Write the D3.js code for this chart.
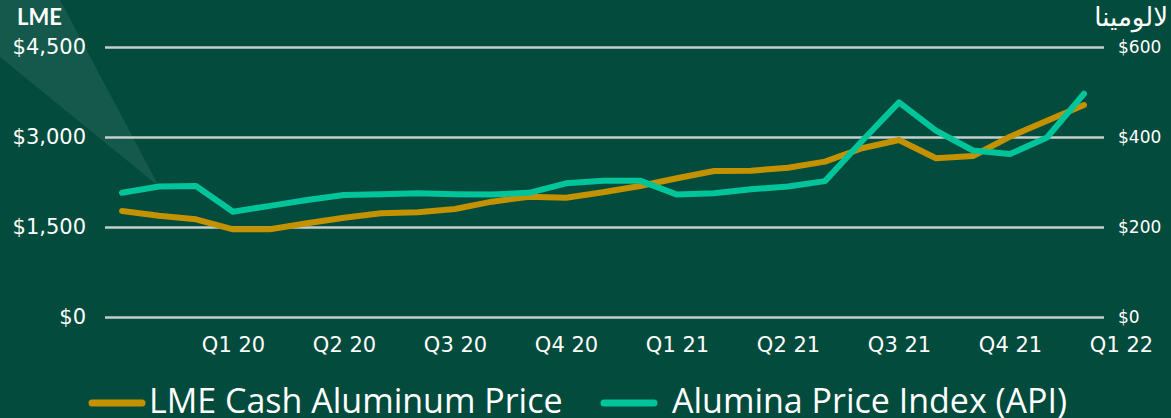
<!DOCTYPE html>
<html>
<head>
<meta charset="utf-8">
<script src="https://cdn.jsdelivr.net/npm/d3@7"></script>
<style>
  html, body { margin: 0; padding: 0; background: #024b3d; }
  svg { display: block; }
</style>
</head>
<body>
<div id="plot"></div>
<script>
// monthly points, Oct 2019 .. Dec 2021
var months = ["Oct 19", "Nov 19", "Dec 19", "Jan 20", "Feb 20", "Mar 20", "Apr 20", "May 20", "Jun 20",
              "Jul 20", "Aug 20", "Sep 20", "Oct 20", "Nov 20", "Dec 20", "Jan 21", "Feb 21", "Mar 21",
              "Apr 21", "May 21", "Jun 21", "Jul 21", "Aug 21", "Sep 21", "Oct 21", "Nov 21", "Dec 21"];

// LME cash aluminum, $/t (left axis)
var lmeCash = [1767, 1688, 1628, 1462, 1462, 1562, 1655, 1728, 1745,
               1800, 1922, 2005, 1988, 2078, 2183, 2312, 2433, 2438,
               2488, 2590, 2812, 2950, 2645, 2683, 3005, 3272, 3533];

// alumina price index, $/t (right axis)
var aluminaApi = [276, 290, 291, 234, 247, 260, 271, 273, 275,
                  273, 272, 276, 297, 303, 303, 272, 275, 284,
                  290, 302, 391, 477, 414, 370, 362, 399, 496];

var quarterLabels = ["Q1 20", "Q2 20", "Q3 20", "Q4 20", "Q1 21", "Q2 21", "Q3 21", "Q4 21", "Q1 22"];
var leftTicks = [0, 1500, 3000, 4500];
var rightTicks = [0, 200, 400, 600];
var seriesNames = ["LME Cash Aluminum Price", "Alumina Price Index (API)"];
var seriesColors = ["#c49200", "#00c49a"];

var width = 1171, height = 418;
var gridLeft = 105, gridRight = 1104;

var x = d3.scaleLinear()
          .domain([0, months.length])
          .range([122, 1121]);

var yLeft = d3.scaleLinear().domain([0, 4500]).range([317, 47]);
var yRight = d3.scaleLinear().domain([0, 600]).range([317, 47]);

var chart = d3.select('#plot')
    .append('svg')
    .attr('width', width)
    .attr('height', height);

chart.append('rect')
    .attr('width', width)
    .attr('height', height)
    .attr('fill', '#024b3d');

// spotlight wedge pointing at the second API point
var tipX = x(1), tipY = yRight(aluminaApi[1]);
chart.append('path')
    .attr('d', 'M0,0 L60,0 L' + tipX + ',' + tipY + ' L0,57 Z')
    .attr('fill', '#ffffff')
    .attr('fill-opacity', 0.08);

// left axis + gridlines
var leftAxis = d3.axisLeft(yLeft)
    .tickValues(leftTicks)
    .tickSize(-(gridRight - gridLeft))
    .tickPadding(19)
    .tickFormat(function(d) { return '$' + d3.format(',')(d); });

var gl = chart.append('g')
    .attr('transform', 'translate(' + gridLeft + ',0)')
    .call(leftAxis);
gl.select('.domain').remove();
gl.selectAll('line').attr('stroke', '#c6cecb').attr('stroke-width', 2.5);
gl.selectAll('text')
    .attr('fill', '#ffffff')
    .style('font-family', 'DejaVu Sans')
    .style('font-size', '21px');

// right axis
var rightAxis = d3.axisRight(yRight)
    .tickValues(rightTicks)
    .tickSize(0)
    .tickPadding(14)
    .tickFormat(function(d) { return '$' + d; });

var gr = chart.append('g')
    .attr('transform', 'translate(' + gridRight + ',0)')
    .call(rightAxis);
gr.select('.domain').remove();
gr.selectAll('text')
    .attr('fill', '#ffffff')
    .style('font-family', 'DejaVu Sans')
    .style('font-size', '17px');

// bottom axis, a label every third month
var bottomAxis = d3.axisBottom(x)
    .tickValues(quarterLabels.map(function(d, i) { return 3 * (i + 1); }))
    .tickSize(0)
    .tickPadding(20)
    .tickFormat(function(d, i) { return quarterLabels[i]; });

var gb = chart.append('g')
    .attr('transform', 'translate(0,' + yLeft(0) + ')')
    .call(bottomAxis);
gb.select('.domain').remove();
gb.selectAll('text')
    .attr('fill', '#ffffff')
    .style('font-family', 'DejaVu Sans')
    .style('font-size', '21px');

// axis titles
chart.append('text')
    .attr('x', 17)
    .attr('y', 25)
    .attr('fill', '#ffffff')
    .style('font-family', 'Lato')
    .style('font-weight', 'bold')
    .style('font-size', '22px')
    .text('LME');

chart.append('text')
    .attr('x', 1168)
    .attr('y', 26)
    .attr('text-anchor', 'end')
    .attr('fill', '#ffffff')
    .style('font-family', 'DejaVu Sans')
    .style('font-size', '26px')
    .text('لالومينا');

var lineLeft = d3.line()
    .x(function(d, i) { return x(i); })
    .y(function(d) { return yLeft(d); });

var lineRight = d3.line()
    .x(function(d, i) { return x(i); })
    .y(function(d) { return yRight(d); });

chart.append('path')
    .datum(lmeCash)
    .attr('d', lineLeft)
    .attr('fill', 'none')
    .attr('stroke', seriesColors[0])
    .attr('stroke-width', 6)
    .attr('stroke-linejoin', 'round')
    .attr('stroke-linecap', 'round');

chart.append('path')
    .datum(aluminaApi)
    .attr('d', lineRight)
    .attr('fill', 'none')
    .attr('stroke', seriesColors[1])
    .attr('stroke-width', 6)
    .attr('stroke-linejoin', 'round')
    .attr('stroke-linecap', 'round');

// legend
var legendX = [92, 604];
var legend = chart.selectAll('.legend')
    .data(seriesNames)
  .enter().append('g')
    .attr('class', 'legend')
    .attr('transform', function(d, i) { return 'translate(' + legendX[i] + ',403)'; });

legend.append('line')
    .attr('x1', 0)
    .attr('x2', 50)
    .attr('stroke', function(d, i) { return seriesColors[i]; })
    .attr('stroke-width', 7)
    .attr('stroke-linecap', 'round');

legend.append('text')
    .attr('x', function(d, i) { return i === 0 ? 57 : 68; })
    .attr('y', 10)
    .attr('fill', '#ffffff')
    .style('font-family', 'Open Sans')
    .style('font-size', '34px')
    .text(function(d) { return d; });
</script>
</body>
</html>
